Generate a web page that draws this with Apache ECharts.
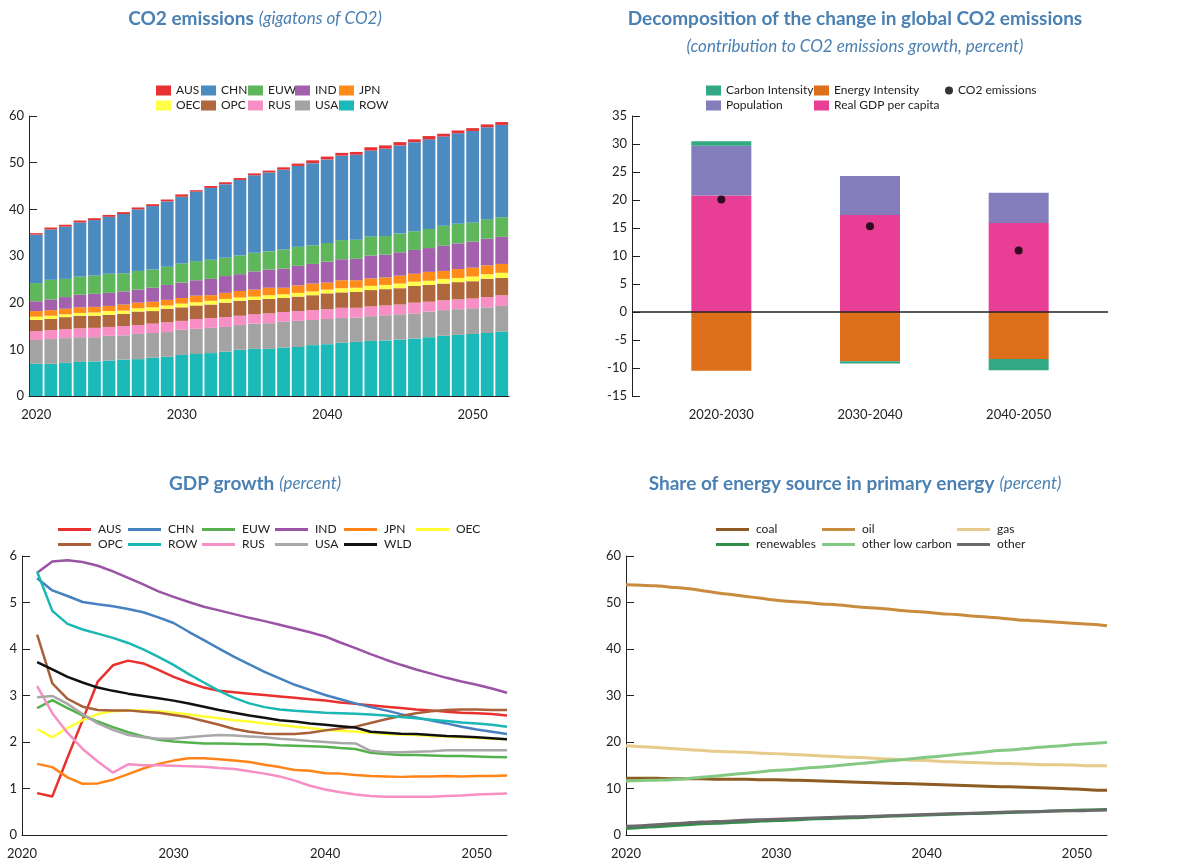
<!DOCTYPE html>
<html>
<head>
<meta charset="utf-8">
<title>CO2 emissions and energy outlook</title>
<script src="https://cdn.jsdelivr.net/npm/echarts@6/dist/echarts.min.js"></script>
<style>
  html, body { margin: 0; padding: 0; background: #fff; }
  #top { width: 1178px; height: 440px; }
  #bottom { width: 1178px; height: 425px; }
</style>
</head>
<body>
<div id="top"></div>
<div id="bottom"></div>
<script>
// ---- data: CO2 emissions by region (gigatons), 2020-2052
const years = ['2020','2021','2022','2023','2024','2025','2026','2027','2028','2029','2030','2031','2032','2033','2034','2035','2036',
  '2037','2038','2039','2040','2041','2042','2043','2044','2045','2046','2047','2048','2049','2050','2051','2052'];
const emROW = [6.9,6.9,7.1,7.3,7.4,7.6,7.8,7.9,8.2,8.4,8.8,9.0,9.2,9.5,9.9,10.1,10.1,10.4,10.5,10.9,11.1,11.4,11.6,11.8,11.9,12.1,12.3,12.6,12.9,13.1,13.3,13.5,13.8];
const emUSA = [5.1,5.3,5.3,5.3,5.2,5.3,5.2,5.4,5.3,5.3,5.4,5.4,5.4,5.3,5.3,5.4,5.5,5.5,5.6,5.4,5.4,5.3,5.2,5.3,5.4,5.4,5.4,5.5,5.5,5.5,5.5,5.5,5.5];
const emRUS = [1.9,1.9,1.9,1.9,2.0,1.9,2.0,1.9,2.0,2.1,1.9,2.1,2.1,2.1,2.0,2.0,2.1,2.1,2.1,2.1,2.1,2.2,2.1,2.1,2.1,2.1,2.3,2.1,2.1,2.1,2.1,2.2,2.3];
const emOPC = [2.4,2.4,2.6,2.7,2.6,2.6,2.6,2.9,2.7,2.9,2.9,2.9,2.9,3.1,3.2,3.1,3.1,3.0,3.1,3.2,3.4,3.3,3.4,3.5,3.5,3.5,3.6,3.6,3.6,3.7,3.7,3.9,3.7];
const emOEC = [0.7,0.7,0.6,0.6,0.7,0.8,0.7,0.7,0.8,0.7,0.8,0.7,0.8,0.8,0.7,0.7,0.8,0.8,0.8,0.8,0.8,0.9,0.9,0.9,0.9,1.0,0.9,0.9,1.0,0.9,1.0,1.0,1.1];
const emJPN = [1.2,1.2,1.2,1.2,1.2,1.1,1.3,1.2,1.2,1.2,1.2,1.4,1.2,1.3,1.4,1.5,1.6,1.4,1.6,1.7,1.5,1.7,1.6,1.6,1.6,1.7,1.7,1.9,1.7,1.9,1.9,1.9,1.9];
const emIND = [2.1,2.3,2.5,2.7,2.8,2.8,2.8,2.8,3.0,3.2,3.3,3.3,3.5,3.6,3.6,3.9,3.9,4.1,4.2,4.2,4.5,4.5,4.6,4.9,4.9,5.0,5.1,5.1,5.4,5.5,5.6,5.7,5.8];
const emEUW = [3.9,4.2,3.9,3.9,3.9,4.1,3.9,4.0,3.9,3.9,4.1,4.1,4.1,3.9,4.0,4.0,3.9,4.1,4.1,4.0,4.0,4.1,4.1,4.1,4.0,4.0,4.0,4.1,4.3,4.2,4.1,4.2,4.2];
const emCHN = [10.4,10.8,11.2,11.6,11.9,12.2,12.7,13.2,13.6,14.0,14.3,14.9,15.4,15.8,16.2,16.6,16.9,17.1,17.3,17.6,17.9,18.1,18.2,18.4,18.7,18.9,19.1,19.2,19.1,19.4,19.6,19.7,19.8];
const emAUS = [0.3,0.4,0.4,0.4,0.4,0.4,0.4,0.4,0.4,0.4,0.5,0.3,0.4,0.4,0.4,0.4,0.4,0.5,0.5,0.6,0.6,0.6,0.6,0.7,0.7,0.7,0.6,0.7,0.6,0.6,0.6,0.6,0.6];

// ---- data: decomposition of CO2 growth (percent)
const decompPeriods = ['2020-2030', '2030-2040', '2040-2050'];
const carbonIntensity = [0.8, -0.4, -2.0];
const energyIntensity = [-10.5, -8.8, -8.4];
const population = [8.9, 7.0, 5.4];
const realGdpPerCapita = [20.8, 17.3, 15.9];
const co2Growth = [20.1, 15.3, 11.0];

// ---- data: GDP growth (percent), 2021-2052
const gdpYears = [2021,2022,2023,2024,2025,2026,2027,2028,2029,2030,2031,2032,2033,2034,2035,2036,
  2037,2038,2039,2040,2041,2042,2043,2044,2045,2046,2047,2048,2049,2050,2051,2052];
const gdpAUS = [0.90,0.83,1.66,2.47,3.30,3.65,3.75,3.69,3.55,3.40,3.28,3.17,3.10,3.07,3.04,3.01,2.98,2.95,2.92,2.89,2.85,2.82,2.79,2.76,2.73,2.70,2.68,2.65,2.63,2.62,2.60,2.57];
const gdpCHN = [5.52,5.26,5.14,5.01,4.96,4.92,4.86,4.79,4.68,4.56,4.37,4.19,4.01,3.83,3.67,3.51,3.37,3.23,3.12,3.01,2.92,2.83,2.75,2.68,2.60,2.53,2.46,2.40,2.33,2.27,2.22,2.17];
const gdpEUW = [2.73,2.90,2.73,2.57,2.44,2.32,2.21,2.12,2.05,2.01,1.99,1.97,1.97,1.96,1.95,1.95,1.93,1.92,1.91,1.90,1.87,1.85,1.77,1.74,1.72,1.72,1.71,1.70,1.70,1.69,1.68,1.67];
const gdpIND = [5.64,5.88,5.91,5.87,5.79,5.67,5.53,5.39,5.24,5.12,5.01,4.91,4.83,4.75,4.67,4.60,4.52,4.44,4.36,4.27,4.14,4.02,3.89,3.77,3.66,3.56,3.47,3.38,3.30,3.23,3.15,3.06];
const gdpJPN = [1.53,1.46,1.24,1.10,1.11,1.19,1.31,1.43,1.53,1.60,1.65,1.65,1.63,1.60,1.57,1.51,1.46,1.40,1.38,1.33,1.32,1.29,1.27,1.26,1.25,1.26,1.26,1.27,1.26,1.27,1.27,1.28];
const gdpOEC = [2.28,2.10,2.30,2.47,2.60,2.66,2.68,2.68,2.66,2.63,2.59,2.55,2.51,2.47,2.44,2.40,2.37,2.33,2.30,2.26,2.24,2.22,2.20,2.17,2.16,2.15,2.13,2.12,2.10,2.09,2.07,2.06];
const gdpOPC = [4.31,3.26,2.93,2.76,2.69,2.68,2.68,2.65,2.63,2.58,2.53,2.45,2.37,2.28,2.22,2.18,2.17,2.17,2.20,2.25,2.29,2.33,2.41,2.49,2.56,2.62,2.66,2.69,2.70,2.70,2.69,2.69];
const gdpROW = [5.66,4.82,4.54,4.42,4.33,4.24,4.13,3.99,3.83,3.66,3.46,3.28,3.10,2.95,2.83,2.75,2.70,2.67,2.65,2.63,2.62,2.61,2.59,2.57,2.54,2.51,2.48,2.45,2.42,2.40,2.37,2.33];
const gdpRUS = [3.20,2.62,2.20,1.85,1.58,1.34,1.52,1.50,1.50,1.49,1.48,1.47,1.44,1.42,1.37,1.32,1.26,1.17,1.06,0.98,0.92,0.87,0.84,0.82,0.82,0.82,0.82,0.84,0.85,0.87,0.88,0.89];
const gdpUSA = [2.96,2.99,2.82,2.60,2.40,2.26,2.15,2.10,2.07,2.07,2.10,2.13,2.15,2.14,2.12,2.10,2.07,2.05,2.02,2.00,1.98,1.97,1.81,1.78,1.78,1.79,1.80,1.82,1.82,1.82,1.82,1.82];
const gdpWLD = [3.72,3.56,3.40,3.28,3.17,3.10,3.04,2.99,2.94,2.89,2.83,2.76,2.69,2.63,2.57,2.52,2.47,2.44,2.40,2.37,2.34,2.31,2.22,2.20,2.18,2.17,2.15,2.13,2.12,2.10,2.08,2.06];

// ---- data: share of energy source in primary energy (percent), 2020-2052
const energyYears = [2020,2021,2022,2023,2024,2025,2026,2027,2028,2029,2030,2031,2032,2033,2034,2035,2036,
  2037,2038,2039,2040,2041,2042,2043,2044,2045,2046,2047,2048,2049,2050,2051,2052];
const shCoal = [12.2,12.2,12.2,12.1,12.1,12.1,12.0,12.0,12.0,11.9,11.9,11.8,11.7,11.6,11.5,11.4,11.3,11.2,11.1,11.0,10.9,10.8,10.7,10.6,10.5,10.4,10.3,10.2,10.1,10.0,9.9,9.7,9.6];
const shOil = [53.8,53.7,53.6,53.3,53.0,52.6,52.1,51.7,51.3,50.9,50.5,50.2,50.0,49.7,49.5,49.2,48.9,48.7,48.4,48.1,47.9,47.6,47.4,47.1,46.9,46.6,46.3,46.1,45.9,45.7,45.5,45.3,45.0];
const shGas = [19.2,19.0,18.8,18.6,18.4,18.2,18.0,17.9,17.8,17.6,17.5,17.3,17.2,17.0,16.9,16.7,16.6,16.4,16.3,16.1,16.0,15.8,15.7,15.6,15.5,15.4,15.3,15.2,15.1,15.1,15.0,14.9,14.9];
const shRenew = [1.4,1.6,1.8,2.0,2.2,2.4,2.5,2.7,2.8,3.0,3.1,3.2,3.4,3.5,3.6,3.7,3.8,4.0,4.1,4.2,4.3,4.4,4.5,4.6,4.7,4.8,4.9,5.0,5.1,5.2,5.3,5.4,5.5];
const shLowCarbon = [11.6,11.7,11.8,11.9,12.1,12.4,12.7,13.0,13.3,13.6,13.9,14.1,14.4,14.6,14.9,15.2,15.5,15.8,16.1,16.4,16.7,17.0,17.3,17.6,17.9,18.2,18.4,18.7,19.0,19.2,19.5,19.7,19.9];
const shOther = [1.9,2.0,2.2,2.4,2.6,2.8,2.9,3.0,3.2,3.3,3.4,3.5,3.6,3.7,3.8,3.9,4.0,4.1,4.2,4.3,4.4,4.5,4.6,4.7,4.8,4.9,5.0,5.0,5.1,5.2,5.2,5.3,5.4];

const FONT = 'Lato';
const BLUE = '#4b80b3';
const INK = '#222';

function titleBlock(text, x, top) {
  return {
    text: text, left: x, top: top, textAlign: 'center', padding: 0,
    textStyle: {
      fontWeight: 'normal',
      rich: {
        b: { fontFamily: FONT, fontSize: 19, fontWeight: 'bold', color: BLUE, lineHeight: 28 },
        i: { fontFamily: FONT, fontSize: 17, fontStyle: 'italic', fontWeight: 'normal', color: BLUE, lineHeight: 28 }
      }
    }
  };
}

function legendColumn(names, left, top, line, extra) {
  return Object.assign({
    orient: 'vertical', left: left, top: top, padding: 0, itemGap: 0,
    icon: 'rect',
    itemWidth: line ? 33 : 15, itemHeight: line ? 3 : 10,
    selectedMode: false,
    textStyle: { fontFamily: FONT, fontSize: 12, color: INK, lineHeight: 15, padding: [0, 0, 0, line ? 2 : 0] },
    data: names
  }, extra || {});
}

function valueAxis(gridIndex, min, max, interval) {
  return {
    type: 'value', gridIndex: gridIndex, min: min, max: max, interval: interval,
    axisLine: { show: true, onZero: false, lineStyle: { color: INK } },
    axisTick: { show: true, inside: true, length: 8, lineStyle: { color: INK } },
    splitLine: { show: false },
    axisLabel: { fontFamily: FONT, fontSize: 13, color: INK, margin: 5 }
  };
}

function yearAxis(gridIndex) {
  return {
    type: 'value', gridIndex: gridIndex, min: 2020, max: 2052, interval: 10,
    axisLine: { show: true, onZero: false, lineStyle: { color: INK } },
    axisTick: { show: false },
    splitLine: { show: false },
    axisLabel: {
      fontFamily: FONT, fontSize: 13, color: INK, margin: 12,
      formatter: function (v) { return v % 10 === 0 ? String(v) : ''; }
    }
  };
}

// ================= top row =================
const topChart = echarts.init(document.getElementById('top'));

const emissionLayers = [
  ['ROW', emROW, '#1bbab9'],
  ['USA', emUSA, '#a3a3a3'],
  ['RUS', emRUS, '#f88ec6'],
  ['OPC', emOPC, '#af673e'],
  ['OEC', emOEC, '#ffff48'],
  ['JPN', emJPN, '#ff8c19'],
  ['IND', emIND, '#a360ac'],
  ['EUW', emEUW, '#5fb75c'],
  ['CHN', emCHN, '#4b8bbf'],
  ['AUS', emAUS, '#e73133']
];

// stacking order of the decomposition bars (first = next to zero)
const decompLayers = [
  ['Real GDP per capita', realGdpPerCapita, '#e93e96'],
  ['Population', population, '#837ebb'],
  ['Energy Intensity', energyIntensity, '#dd6f1b'],
  ['Carbon Intensity', carbonIntensity, '#32a885']
];

const hidden = { show: false };

topChart.setOption({
  animation: false,
  title: [
    titleBlock('{b|CO2 emissions} {i|(gigatons of CO2)}', 255, 5),
    titleBlock('{b|Decomposition of the change in global CO2 emissions}\n{i|(contribution to CO2 emissions growth, percent)}', 855, 5)
  ],
  legend: [
    legendColumn(['AUS', 'OEC'], 156, 83),
    legendColumn(['CHN', 'OPC'], 201, 83),
    legendColumn(['EUW', 'RUS'], 248, 83),
    legendColumn(['IND', 'USA'], 295, 83),
    legendColumn(['JPN', 'ROW'], 339, 83),
    legendColumn(['Carbon Intensity', 'Population'], 706, 83),
    legendColumn(['Energy Intensity', 'Real GDP per capita'], 814, 83),
    legendColumn(['CO2 emissions'], 945, 83, false, { icon: 'circle', itemWidth: 8, itemHeight: 8 })
  ],
  grid: [
    { left: 29, top: 116, width: 480, height: 280 },
    { left: 647, top: 116, width: 446, height: 280 },
    { left: 632, top: 116, width: 476, height: 280 }
  ],
  xAxis: [
    {
      type: 'category', gridIndex: 0, data: years,
      axisLine: { show: true, lineStyle: { color: INK } },
      axisTick: { show: false },
      axisLabel: {
        fontFamily: FONT, fontSize: 13, color: INK, margin: 12,
        interval: function (i, v) { return Number(v) % 10 === 0; }
      }
    },
    {
      type: 'category', gridIndex: 1, data: decompPeriods,
      axisLine: { show: false, onZero: false },
      axisTick: { show: false },
      axisLabel: { fontFamily: FONT, fontSize: 13, color: INK, margin: 12 }
    },
    { type: 'value', gridIndex: 2, min: 0, max: 1, show: false }
  ],
  yAxis: [
    valueAxis(0, 0, 60, 10),
    Object.assign(valueAxis(1, -15, 35, 5), { offset: 15 }),
    { type: 'value', gridIndex: 2, min: -15, max: 35, show: false }
  ],
  series: emissionLayers.map(function (l) {
    return {
      name: l[0], type: 'bar', stack: 'co2', xAxisIndex: 0, yAxisIndex: 0,
      barCategoryGap: '12%', data: l[1], itemStyle: { color: l[2] }
    };
  }).concat(decompLayers.map(function (l) {
    return {
      name: l[0], type: 'bar', stack: 'dec', xAxisIndex: 1, yAxisIndex: 1,
      barWidth: 60, data: l[1], itemStyle: { color: l[2] }
    };
  })).concat([
    {
      name: 'CO2 emissions', type: 'scatter', xAxisIndex: 1, yAxisIndex: 1, z: 5,
      symbolSize: 8, data: co2Growth, itemStyle: { color: '#000' }
    },
    {
      // zero reference line across the whole decomposition panel
      type: 'line', xAxisIndex: 2, yAxisIndex: 2, data: [], z: 4,
      markLine: {
        silent: true, symbol: 'none', label: { show: false },
        lineStyle: { color: INK, width: 1.5, type: 'solid' },
        data: [{ yAxis: 0 }]
      }
    }
  ])
});

// ================= bottom row =================
const bottomChart = echarts.init(document.getElementById('bottom'));

const gdpLines = [
  ['AUS', gdpAUS, '#e8302f'],
  ['CHN', gdpCHN, '#4681c0'],
  ['EUW', gdpEUW, '#55b14f'],
  ['IND', gdpIND, '#9b53a6'],
  ['JPN', gdpJPN, '#ff8417'],
  ['OEC', gdpOEC, '#ffff33'],
  ['OPC', gdpOPC, '#a9603a'],
  ['ROW', gdpROW, '#1bb7b4'],
  ['RUS', gdpRUS, '#f78fc5'],
  ['USA', gdpUSA, '#a8a8a8'],
  ['WLD', gdpWLD, '#111111']
];

const energyLines = [
  ['coal', shCoal, '#8e5b23'],
  ['oil', shOil, '#c98b3d'],
  ['gas', shGas, '#e6cb8b'],
  ['renewables', shRenew, '#30904a'],
  ['other low carbon', shLowCarbon, '#83c983'],
  ['other', shOther, '#6a6a6a']
];

bottomChart.setOption({
  animation: false,
  title: [
    titleBlock('{b|GDP growth} {i|(percent)}', 255, 30),
    titleBlock('{b|Share of energy source in primary energy} {i|(percent)}', 855, 30)
  ],
  legend: [
    legendColumn(['AUS', 'OPC'], 58, 82, true),
    legendColumn(['CHN', 'ROW'], 128, 82, true),
    legendColumn(['EUW', 'RUS'], 202, 82, true),
    legendColumn(['IND', 'USA'], 275, 82, true),
    legendColumn(['JPN', 'WLD'], 344, 82, true),
    legendColumn(['OEC'], 416, 82, true),
    legendColumn(['coal', 'renewables'], 716, 82, true),
    legendColumn(['oil', 'other low carbon'], 822, 82, true),
    legendColumn(['gas', 'other'], 957, 82, true)
  ],
  grid: [
    { left: 22, top: 116, width: 485, height: 279 },
    { left: 626, top: 116, width: 481, height: 279 }
  ],
  xAxis: [yearAxis(0), yearAxis(1)],
  yAxis: [valueAxis(0, 0, 6, 1), valueAxis(1, 0, 60, 10)],
  series: gdpLines.map(function (l) {
    return {
      name: l[0], type: 'line', xAxisIndex: 0, yAxisIndex: 0,
      showSymbol: false, symbol: 'none',
      data: gdpYears.map(function (y, i) { return [y, l[1][i]]; }),
      itemStyle: { color: l[2] }, lineStyle: { color: l[2], width: 2.5 }
    };
  }).concat(energyLines.map(function (l) {
    return {
      name: l[0], type: 'line', xAxisIndex: 1, yAxisIndex: 1,
      showSymbol: false, symbol: 'none', smooth: 0.3,
      data: energyYears.map(function (y, i) { return [y, l[1][i]]; }),
      itemStyle: { color: l[2] }, lineStyle: { color: l[2], width: 3 }
    };
  }))
});
</script>
</body>
</html>
